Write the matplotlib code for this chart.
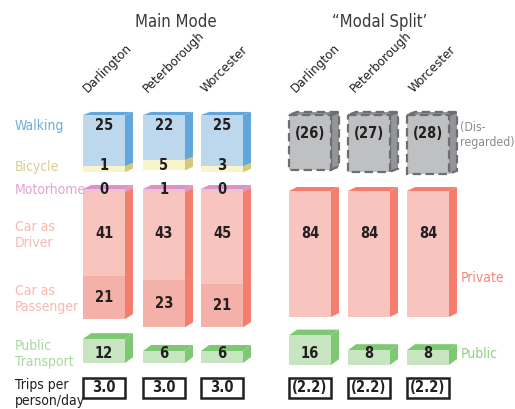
import matplotlib
matplotlib.use("Agg")
import matplotlib.pyplot as plt
from matplotlib.patches import Polygon, Rectangle

plt.rcParams['font.family'] = ['DejaVu Sans']
plt.rcParams['font.stretch'] = 'condensed'

# data (percent of trips)
cities = ['Darlington', 'Peterborough', 'Worcester']
walking = [25, 22, 25]
bicycle = [1, 5, 3]
motorhome = [0, 1, 0]
car_driver = [41, 43, 45]
car_passenger = [21, 23, 21]
public_main = [12, 6, 6]
trips_main = [3.0, 3.0, 3.0]

disregarded = [26, 27, 28]
private = [84, 84, 84]
public_modal = [16, 8, 8]
trips_modal = [2.2, 2.2, 2.2]

# colours: (front, side/top)
C_WALK = ('#bdd7ed', '#62a6dc')
C_BIKE = ('#f9f4c9', '#d5c97c')
C_MOTOR = ('#e9c2dc', '#dc92c5')
C_DRIVER = ('#f8c4be', '#f47d6e')
C_PASS = ('#f4b1aa', '#f47d6e')
C_PUB = ('#c6e5c0', '#7dc971')
C_GREY = ('#bfc0c2', '#939598')
TXT = '#231f20'

main_x = [83, 143, 201]
modal_x = [289, 348, 407]
W = 42
DX = 8


def depth(ytop):
    return 3 + (ytop - 112) / 80


def block(ax, x0, ytop, h, cols, top=True, dashed=False):
    x1 = x0 + W
    yb = ytop + h
    dy = depth(ytop)
    ls = (0, (3.8, 2)) if dashed else '-'
    ec = '#6d6e70' if dashed else 'none'
    lw = 1.6 if dashed else 0
    ax.add_patch(Polygon([(x1, ytop), (x1 + DX, ytop - dy), (x1 + DX, yb - dy), (x1, yb)],
                         closed=True, fc=cols[1], ec=ec, lw=lw, ls=ls, zorder=2))
    if top:
        ax.add_patch(Polygon([(x0, ytop), (x1, ytop), (x1 + DX, ytop - dy), (x0 + DX, ytop - dy)],
                             closed=True, fc=cols[1], ec=ec, lw=lw, ls=ls, zorder=2))
    ax.add_patch(Rectangle((x0, ytop), W, h, fc=cols[0], ec=ec, lw=lw, ls=ls, zorder=3))


def num(ax, x0, y, s):
    ax.text(x0 + W / 2, y, s, ha='center', va='center', fontsize=10.5,
            fontweight='bold', color=TXT, zorder=5)


fig = plt.figure(figsize=(5.15, 4.09), dpi=100)
ax = fig.add_axes([0, 0, 1, 1])
ax.set_xlim(0, 515)
ax.set_ylim(409, 0)
ax.axis('off')

S = 2.05  # px per percent

# ---- Main Mode ----
for i, x0 in enumerate(main_x):
    # walking + bicycle
    hw = walking[i] * S
    hb = max(bicycle[i] * S, 6)
    block(ax, x0, 115, hw, C_WALK)
    block(ax, x0, 115 + hw, hb, C_BIKE, top=False)
    num(ax, x0, 126, str(walking[i]))
    num(ax, x0, 166, str(bicycle[i]))

    # motorhome + car
    hm = max(motorhome[i] * S, 3)
    hd = car_driver[i] * S
    hp = car_passenger[i] * S
    block(ax, x0, 189, hm, C_MOTOR)
    block(ax, x0, 189 + hm, hd, C_DRIVER, top=False)
    block(ax, x0, 189 + hm + hd, hp, C_PASS, top=False)
    num(ax, x0, 189, str(motorhome[i]))
    num(ax, x0, 234, str(car_driver[i]))
    num(ax, x0, 189 + hm + hd + hp / 2, str(car_passenger[i]))

    # public transport, bottom aligned
    hpt = public_main[i] * 2.0
    block(ax, x0, 363 - hpt, hpt, C_PUB)
    num(ax, x0, 354, str(public_main[i]))

    # trips box
    ax.add_patch(Rectangle((x0, 378), W, 20, fc='white', ec=TXT, lw=1.8, zorder=3))
    num(ax, x0, 388, f'{trips_main[i]:.1f}')

    ax.text(x0 + 7, 95, cities[i], rotation=45, rotation_mode='anchor',
            ha='left', va='bottom', fontsize=9.5, color=TXT)

# ---- Modal Split ----
for i, x0 in enumerate(modal_x):
    hg = disregarded[i] * 2.1
    block(ax, x0, 115, hg, C_GREY, dashed=True)
    num(ax, x0, 134, f'({disregarded[i]})')

    hpr = private[i] * 1.5
    block(ax, x0, 191, hpr, C_DRIVER)
    num(ax, x0, 234, str(private[i]))

    hpu = public_modal[i] * 1.85
    block(ax, x0, 365 - hpu, hpu, C_PUB)
    num(ax, x0, 354, str(public_modal[i]))

    ax.add_patch(Rectangle((x0, 378), W, 20, fc='white', ec=TXT, lw=1.8, zorder=3))
    num(ax, x0, 388, f'({trips_modal[i]:.1f})')

    ax.text(x0 + 9, 95, cities[i], rotation=45, rotation_mode='anchor',
            ha='left', va='bottom', fontsize=9.5, color=TXT)

# titles
ax.text(176, 22, 'Main Mode', ha='center', va='center', fontsize=12, color='#3a3a3a')
ax.text(380, 22, '\u201cModal Split\u2019', ha='center', va='center', fontsize=12, color='#3a3a3a')

# row labels
lab = dict(ha='left', va='center', fontsize=10, linespacing=1.1)
ax.text(15, 126, 'Walking', color='#6aaee0', **lab)
ax.text(15, 167, 'Bicycle', color='#d8cf8e', **lab)
ax.text(15, 190, 'Motorhome', color='#e6a3d2', **lab)
ax.text(15, 235, 'Car as\nDriver', color='#f9b8b1', **lab)
ax.text(15, 299, 'Car as\nPassenger', color='#f9b8b1', **lab)
ax.text(15, 354, 'Public\nTransport', color='#a6db9a', **lab)
ax.text(15, 393, 'Trips per\nperson/day', color=TXT, **lab)

ax.text(460, 135, '(Dis-\nregarded)', color='#8c8c8c', ha='left', va='center',
        fontsize=8.8, linespacing=1.15)
ax.text(461, 278, 'Private', color='#f7877c', **lab)
ax.text(461, 354, 'Public', color='#8fd37f', **lab)

fig.savefig('out.png', dpi=100)
